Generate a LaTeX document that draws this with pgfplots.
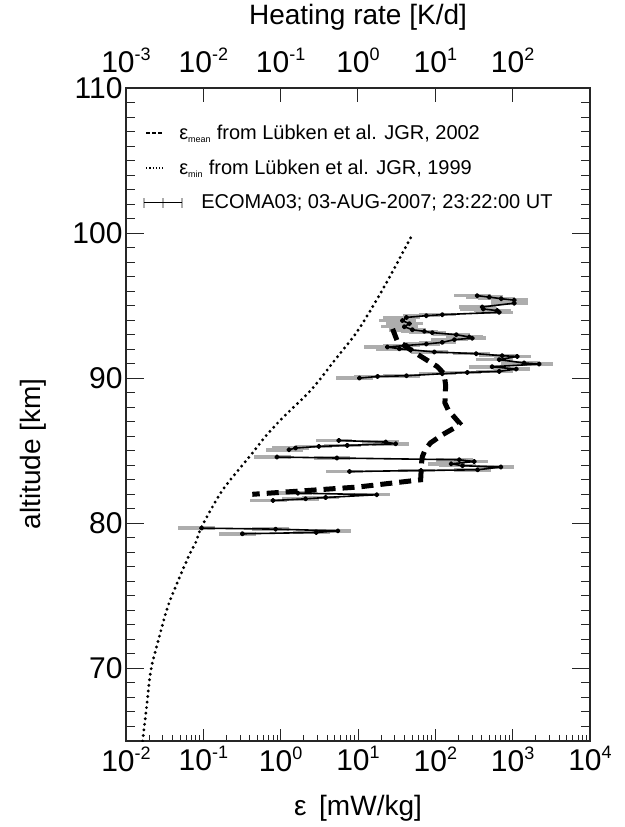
\documentclass[border=0pt]{standalone}
\usepackage{pgfplots}
\pgfplotsset{compat=1.18}
\usepackage{pgfplotstable}
\usepackage{fontspec}
\setmainfont{Liberation Sans}
\usetikzlibrary{calc}

\definecolor{errgray}{gray}{0.68}
\definecolor{axisdark}{gray}{0.15}

% 10^x tick label in the text font
\newcommand{\tp}[1]{10\raisebox{12pt}{\fontsize{18}{18}\selectfont#1}}

% ECOMA03 profile: eps [mW/kg], altitude [km]; nan rows = gaps
\pgfplotstableread{
eps alt
348 95.69
498 95.59
711 95.48
1045 95.38
1045 95.17
404 94.91
416 94.77
631 94.66
670 94.54
123 94.38
76.5 94.31
42.3 94.19
37.5 93.97
46.2 93.76
39.8 93.55
50.5 93.34
72.1 93.23
91.4 93.14
187 93.00
275 92.84
300 92.76
176 92.66
123 92.47
76.5 92.36
42.3 92.26
24.0 92.15
34.3 92.03
97 91.81
338 91.69
732 91.55
1143 91.50
670 91.28
1406 91.05
2198 90.98
543 90.79
1110 90.63
670 90.47
259 90.40
123 90.31
42.3 90.17
17.9 90.12
10.45 90.01
nan nan
5.65 85.71
22.8 85.60
30.7 85.48
7.26 85.37
3.12 85.30
1.56 85.19
1.28 85.07
nan nan
0.895 84.57
5.33 84.50
204 84.38
318 84.26
160 84.10
225 83.97
704 83.88
352 83.69
65.3 83.64
7.77 83.57
nan nan
1.67 82.08
17.5 81.97
3.81 81.78
2.10 81.69
0.796 81.57
nan nan
0.095 79.67
0.861 79.60
5.49 79.48
2.89 79.37
0.32 79.28
}\ecoma

\begin{document}
\begin{tikzpicture}
% main axis: data, bottom x ticks
\begin{axis}[
  name=main,
  scale only axis, width=464pt, height=653pt,
  xmode=log, xmin=1e-2, xmax=1e4, ymin=65, ymax=110,
  axis line style={draw=axisdark, line width=1.5pt},
  xtick={1e-2,1e-1,1,1e1,1e2,1e3,1e4},
  xticklabels={\tp{-2},\tp{-1},\tp{0},\tp{1},\tp{2},\tp{3},\tp{4}},
  minor xtick={0.02,0.03,0.04,0.05,0.06,0.07,0.08,0.09,0.2,0.3,0.4,0.5,0.6,0.7,0.8,0.9,2,3,4,5,6,7,8,9,20,30,40,50,60,70,80,90,200,300,400,500,600,700,800,900,2000,3000,4000,5000,6000,7000,8000,9000},
  xtick pos=bottom,
  ytick=\empty,
  tick align=inside,
  major tick length=12pt, minor tick length=6pt,
  tick style={axisdark, line width=1pt},
  xticklabel style={font=\fontsize{30}{30}\selectfont, yshift=-2pt},
  xlabel={ε\hspace{0.45em}[mW/kg]},
  xlabel style={font=\fontsize{28}{28}\selectfont, at={(axis description cs:0.5,-0.1026)}, anchor=center},
  unbounded coords=jump,
  legend cell align=left,
  legend style={draw=none, fill=none, at={(axis description cs:0.03,0.95)}, anchor=north west,
    font=\fontsize{20}{20}\selectfont, row sep=15pt},
]
\addlegendimage{legend image code/.code={\draw[black, line width=1.6pt, dash pattern=on 3.5pt off 2.5pt] (2pt,0pt) -- (18pt,0pt);}}
\addlegendentry{\hspace*{-6pt}ε\textsubscript{\fontsize{9}{9}\selectfont mean} from Lübken et al. JGR, 2002}
\addlegendimage{legend image code/.code={\draw[black, line width=1.6pt, dash pattern=on 1.2pt off 2pt] (2pt,0pt) -- (19pt,0pt);}}
\addlegendentry{\hspace*{-6pt}ε\textsubscript{\fontsize{9}{9}\selectfont min} from Lübken et al. JGR, 1999}
\addlegendimage{legend image code/.code={
  \draw[errgray, line width=2.2pt] (0pt,-5pt) -- (0pt,5pt) (19pt,-5pt) -- (19pt,5pt) (38pt,-5pt) -- (38pt,5pt);
  \draw[black, line width=1.6pt] (0pt,0pt) -- (38pt,0pt);}}
\addlegendentry{\hspace*{16pt}ECOMA03; 03-AUG-2007; 23:22:00 UT}

% grey error bars below the profile
\addplot[forget plot, draw=none, mark=none,
  error bars/.cd, x dir=both, x explicit relative,
  error mark=none, error bar style={draw=errgray, line width=3.5pt}]
  table[x=eps, y=alt, x error expr=0.5] {\ecoma};
% measured profile
\addplot[forget plot, black, line width=1.6pt, line join=round, mark=*, mark size=1.8pt]
  table[x=eps, y=alt] {\ecoma};
% eps_min (Luebken 1999)
\addplot[forget plot, black, line width=3.2pt, line cap=round, dash pattern=on 0pt off 5.6pt, smooth]
  coordinates {
  (0.0164,65.0) (0.0185,67.4) (0.021,69.9) (0.027,72.2) (0.036,74.5)
  (0.063,77.6) (0.080,78.7) (0.096,79.8) (0.178,82.3) (0.41,84.7)
  (0.64,86.0) (1.05,87.25) (2.48,89.2) (5.1,91.3) (10,93.3) (21.8,96.3) (51.6,100)
  };
% eps_mean (Luebken 2002)
\addplot[forget plot, black, line width=5pt, dash pattern=on 12pt off 7pt]
  coordinates {
  (28,93.4) (32,92.6) (53,91.8) (106,90.8) (130,90.3) (136,89.5) (133,88.3)
  (147,87.8) (206,86.9) (174,86.56) (123,86.1) (86,85.53) (74,85.07) (68,84.6)
  (66.5,84.2) (65.5,83.6) (64.6,83.0) (9.9,82.5) (0.43,82.0)
  };
\end{axis}

% y ticks on both sides
\begin{axis}[
  scale only axis, width=464pt, height=653pt,
  xmin=0, xmax=1, ymin=65, ymax=110,
  hide x axis,
  axis line style={draw=none},
  ytick={70,80,90,100,110},
  yticklabels={70,80,90,100,110},
  minor ytick={65,66,...,110},
  ytick pos=both, tick align=inside,
  major tick length=18pt, minor tick length=9pt,
  tick style={axisdark, line width=1pt},
  yticklabel style={font=\fontsize{30}{30}\selectfont},
  ylabel={altitude [km]},
  ylabel style={font=\fontsize{28}{28}\selectfont, at={(axis description cs:-0.2,0.44)}, anchor=center},
]
\end{axis}

% top axis: heating rate
\begin{axis}[
  scale only axis, width=464pt, height=653pt,
  xmode=log, xmin=1e-3, xmax=1e3, ymin=0, ymax=1,
  axis x line*=top, hide y axis,
  axis line style={draw=none},
  xtick={1e-3,1e-2,1e-1,1,1e1,1e2},
  xticklabels={\tp{-3},\tp{-2},\tp{-1},\tp{0},\tp{1},\tp{2}},
  minor x tick style={draw=none},
  tick align=inside, major tick length=14pt,
  tick style={axisdark, line width=1pt},
  xticklabel style={font=\fontsize{30}{30}\selectfont, yshift=12pt},
  xlabel={Heating rate [K/d]},
  xlabel style={font=\fontsize{28}{28}\selectfont, at={(axis description cs:0.5,1.109)}, anchor=center},
]
\end{axis}

\pgfresetboundingbox
\path ($(main.south west)+(-126pt,-86pt)$) rectangle ($(main.north east)+(34pt,88pt)$);
\end{tikzpicture}
\end{document}
